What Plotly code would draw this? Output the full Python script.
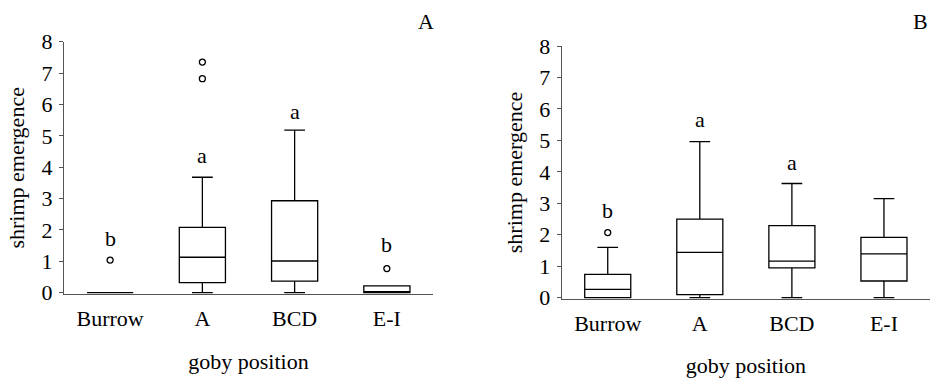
import plotly.graph_objects as go

categories = ["Burrow", "A", "BCD", "E-I"]

# Panel A
a_q1 = [0.0, 0.32, 0.37, 0.0]
a_median = [0.0, 1.13, 1.01, 0.0]
a_q3 = [0.0, 2.08, 2.93, 0.22]
a_lower = [0.0, 0.0, 0.0, 0.0]
a_upper = [0.0, 3.68, 5.18, 0.22]
a_out_x = ["Burrow", "A", "A", "E-I"]
a_out_y = [1.04, 6.82, 7.35, 0.77]
a_letters = ["b", "a", "a", "b"]
a_letter_y = [1.73, 4.36, 5.79, 1.54]

# Panel B
b_q1 = [0.0, 0.1, 0.95, 0.53]
b_median = [0.265, 1.44, 1.165, 1.39]
b_q3 = [0.74, 2.5, 2.29, 1.92]
b_lower = [0.0, 0.0, 0.0, 0.0]
b_upper = [1.6, 4.96, 3.63, 3.15]
b_out_x = ["Burrow"]
b_out_y = [2.07]
b_letters = ["b", "a", "a", ""]
b_letter_y = [2.77, 5.65, 4.29, 0]

FONT = "Liberation Serif"
FS = 22
YMIN = -0.04

fig = go.Figure()

def add_panel(q1, med, q3, lo, up, ox, oy, xa, ya):
    fig.add_trace(go.Box(
        x=categories, q1=q1, median=med, q3=q3, lowerfence=lo, upperfence=up,
        boxpoints=False, fillcolor="white", line=dict(color="black", width=1.3),
        width=0.5, whiskerwidth=0.45, xaxis=xa, yaxis=ya, showlegend=False,
        hoverinfo="skip"))
    fig.add_trace(go.Scatter(
        x=ox, y=oy, mode="markers", xaxis=xa, yaxis=ya, showlegend=False,
        marker=dict(symbol="circle-open", size=6, color="black",
                    line=dict(width=1.3, color="black")),
        cliponaxis=False))

add_panel(a_q1, a_median, a_q3, a_lower, a_upper, a_out_x, a_out_y, "x", "y")
add_panel(b_q1, b_median, b_q3, b_lower, b_upper, b_out_x, b_out_y, "x2", "y2")

for cat, lt, ly in zip(categories, a_letters, a_letter_y):
    if lt:
        fig.add_annotation(x=cat, y=ly, text=lt, xref="x", yref="y", showarrow=False,
                           yanchor="middle", font=dict(family=FONT, size=FS, color="black"))
for cat, lt, ly in zip(categories, b_letters, b_letter_y):
    if lt:
        fig.add_annotation(x=cat, y=ly, text=lt, xref="x2", yref="y2", showarrow=False,
                           yanchor="middle", font=dict(family=FONT, size=FS, color="black"))

fig.add_annotation(x=436 / 930, y=1 - 22 / 378, xref="paper", yref="paper", text="A",
                   xanchor="right", yanchor="middle", showarrow=False,
                   font=dict(family=FONT, size=FS, color="black"))
fig.add_annotation(x=1.0, y=1 - 22 / 378, xref="paper", yref="paper", text="B",
                   xanchor="right", yanchor="middle", showarrow=False,
                   font=dict(family=FONT, size=FS, color="black"))

xcommon = dict(type="category", categoryorder="array", categoryarray=categories,
               range=[-0.5, 3.5], showline=True, linecolor="#555555", linewidth=1.3,
               ticks="", showgrid=False, zeroline=False, automargin=False,
               tickfont=dict(family=FONT, size=FS, color="black"),
               title=dict(text="goby position", font=dict(family=FONT, size=FS, color="black")))
ycommon = dict(range=[YMIN, 8], tickvals=list(range(9)), showline=True, linecolor="#555555",
               linewidth=1.3, ticks="outside", ticklen=4, tickcolor="#555555", showgrid=False,
               zeroline=False, automargin=False,
               tickfont=dict(family=FONT, size=FS, color="black"),
               title=dict(text="shrimp emergence", font=dict(family=FONT, size=FS, color="black")))

unit_a = (292.7 - 41.7) / 8
unit_b = (297.7 - 46) / 8
fig.update_layout(
    template="none",
    width=930, height=378, margin=dict(l=0, r=0, t=0, b=0, pad=0),
    paper_bgcolor="white", plot_bgcolor="white",
    font=dict(family=FONT, size=FS, color="black"),
    xaxis=dict(domain=[64 / 930, 433 / 930], anchor="y", **xcommon),
    yaxis=dict(domain=[1 - (292.7 - YMIN * unit_a) / 378, 1 - 41.7 / 378], anchor="x", **ycommon),
    xaxis2=dict(domain=[561.7 / 930, 1.0], anchor="y2", **xcommon),
    yaxis2=dict(domain=[1 - (297.7 - YMIN * unit_b) / 378, 1 - 46 / 378], anchor="x2", **ycommon),
)
fig.update_xaxes(title_standoff=24, ticklabelstandoff=4)
fig.update_yaxes(title_standoff=10, ticklabelstandoff=2)

fig.write_html("out.html", config={"displayModeBar": False},
               post_script="document.body.style.margin='0';document.body.style.overflow='hidden';")
